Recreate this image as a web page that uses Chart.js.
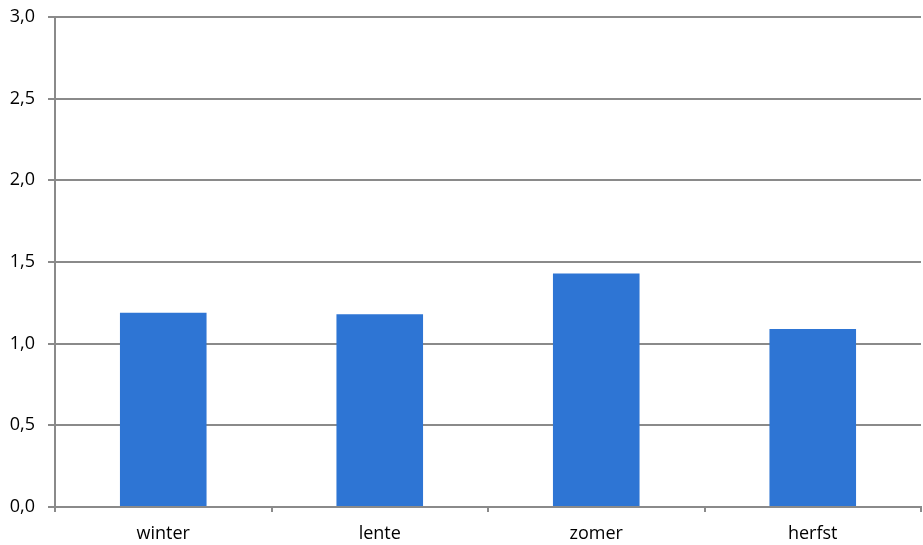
<!DOCTYPE html>
<html>
<head>
<meta charset="utf-8">
<script src="https://cdn.jsdelivr.net/npm/chart.js@4/dist/chart.umd.min.js"></script>
<style>
  html, body { margin: 0; padding: 0; background: #ffffff; }
  #wrap { width: 923px; height: 545px; }
</style>
</head>
<body>
<div id="wrap"><canvas id="chart" width="923" height="545"></canvas></div>
<script>
// seasons and values
const seasons = ['winter', 'lente', 'zomer', 'herfst'];
const values = [1.19, 1.18, 1.43, 1.09];
const yTicks = [0, 0.5, 1, 1.5, 2, 2.5, 3];

const gridColor = '#8a8a8a';
const tickFont = { family: 'Open Sans, Liberation Sans, sans-serif', size: 18 };

new Chart(document.getElementById('chart'), {
    type: 'bar',
    data: {
        labels: seasons,
        datasets: [{
            data: values,
            backgroundColor: '#2e75d4',
            borderWidth: 0,
            barPercentage: 0.4,
            categoryPercentage: 1
        }]
    },
    options: {
        responsive: false,
        animation: false,
        layout: { padding: { top: 17, right: 2, left: 0, bottom: 0 } },
        plugins: {
            legend: { display: false },
            tooltip: { enabled: false }
        },
        scales: {
            x: {
                afterFit: scale => { scale.height = 38; },
                grid: {
                    drawOnChartArea: false,
                    drawTicks: true,
                    tickLength: 5,
                    color: gridColor,
                    lineWidth: 2
                },
                border: { color: gridColor, width: 2 },
                ticks: { color: '#000000', font: tickFont, padding: 11 }
            },
            y: {
                min: 0,
                max: 3,
                afterFit: scale => {
                    scale.width = 55;
                    scale.paddingTop = 0;
                    scale.paddingBottom = 0;
                },
                afterBuildTicks: scale => { scale.ticks = yTicks.map(v => ({ value: v })); },
                grid: {
                    color: gridColor,
                    lineWidth: 2,
                    tickLength: 7
                },
                border: { color: gridColor, width: 2 },
                ticks: {
                    color: '#000000',
                    font: tickFont,
                    padding: 13,
                    callback: v => Number(v).toFixed(1).replace('.', ',')
                }
            }
        }
    }
});
</script>
</body>
</html>
